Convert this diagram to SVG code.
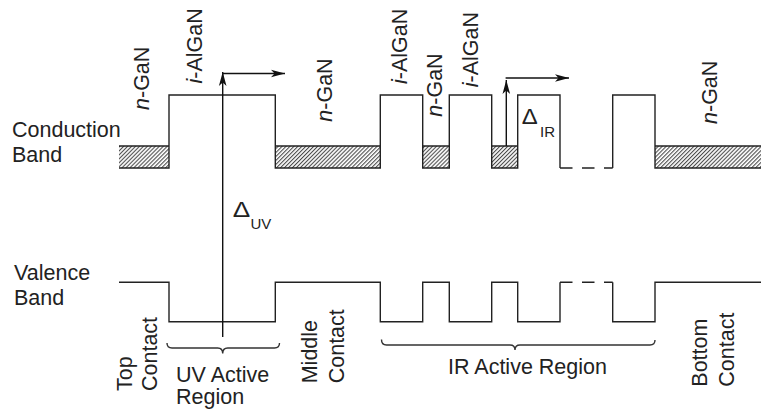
<svg xmlns="http://www.w3.org/2000/svg" width="761" height="409" viewBox="0 0 761 409">
<style>
  .band { fill: none; stroke: #222; stroke-width: 1.4; }
  .dash { fill: none; stroke: #222; stroke-width: 1.4; stroke-dasharray: 12.5 9.5; }
  .edge { fill: none; stroke: #222; stroke-width: 1.4; }
  .hatch { fill: url(#hatch); stroke: none; }
  .arrow { fill: none; stroke: #111; stroke-width: 1.4; marker-end: url(#ah); }
  .brace { fill: none; stroke: #333; stroke-width: 1.4; }
  text { font-family: "Liberation Sans", Arial, sans-serif; font-size: 21.5px; fill: #222; }
  .sub { font-size: 15px; }
  .it { font-style: italic; }
</style>
<defs>
  <pattern id="hatch" patternUnits="userSpaceOnUse" width="2.8" height="2.8" patternTransform="rotate(45)">
    <line x1="0.6" y1="0" x2="0.6" y2="2.8" stroke="#222" stroke-width="0.9"/>
  </pattern>
  <marker id="ah" markerUnits="userSpaceOnUse" markerWidth="16" markerHeight="10" refX="0" refY="0" viewBox="-15 -5 16 10" orient="auto" overflow="visible">
    <path d="M0,0 L-14,-3.8 L-10.5,0 L-14,3.8 Z" fill="#111"/>
  </marker>
</defs>

<g id="conduction-band">
  <rect class="hatch" x="119" y="146" width="50" height="22"/>
  <rect class="hatch" x="275.3" y="146" width="105" height="22"/>
  <rect class="hatch" x="422.7" y="146" width="26.6" height="22"/>
  <rect class="hatch" x="491.7" y="146" width="26" height="22"/>
  <rect class="hatch" x="655" y="146" width="106" height="22"/>
  <path class="edge" d="M119,146 H169 M275.3,146 H380.3 M422.7,146 H449.3 M491.7,146 H517.7 M655,146 H761"/>
  <path class="band" d="M119,168 H169 V95 H275.3 V168 H380.3 V95 H422.7 V168 H449.3 V95 H491.7 V168 H517.7 V95 H560 V168"/>
  <path class="dash" d="M560,168 H612.7"/>
  <path class="band" d="M612.7,168 V95 H655 V168 H761"/>
</g>

<g id="valence-band">
  <path class="band" d="M119,282.3 H169 V321.7 H275.3 V282.3 H380.3 V321.7 H422.7 V282.3 H449.3 V321.7 H491.7 V282.3 H517.7 V321.7 H560 V282.3"/>
  <path class="dash" d="M560,282.3 H612.7"/>
  <path class="band" d="M612.7,282.3 V321.7 H655 V282.3 H761"/>
</g>

<g id="connectors">
  <line class="arrow" x1="222.7" y1="337" x2="222.7" y2="72"/>
  <line class="arrow" x1="222" y1="73.5" x2="285" y2="73.5"/>
  <line class="arrow" x1="506.3" y1="146" x2="506.3" y2="80"/>
  <line class="arrow" x1="505.6" y1="78" x2="569" y2="78"/>
</g>

<g id="braces">
  <path class="brace" d="M167,343 Q167,348 172,348 H217.7 Q222.7,348 222.7,353.5 Q222.7,348 227.7,348 H274.5 Q279.5,348 279.5,343"/>
  <path class="brace" d="M381.5,339.5 Q381.5,345 386.5,345 H510 Q515,345 515,350 Q515,345 520,345 H650 Q655,345 655,340"/>
</g>

<g id="band-labels">
  <text x="12" y="137">Conduction</text>
  <text x="12" y="162">Band</text>
  <text x="14" y="280">Valence</text>
  <text x="14" y="305">Band</text>
</g>

<g id="layer-labels">
  <text transform="translate(148.5,110) rotate(-90)"><tspan class="it">n</tspan>-GaN</text>
  <text transform="translate(201.5,83.5) rotate(-90)"><tspan class="it">i</tspan>-AlGaN</text>
  <text transform="translate(332,121.7) rotate(-90)"><tspan class="it">n</tspan>-GaN</text>
  <text transform="translate(407,84) rotate(-90)"><tspan class="it">i</tspan>-AlGaN</text>
  <text transform="translate(442,116.7) rotate(-90)"><tspan class="it">n</tspan>-GaN</text>
  <text transform="translate(478,87.3) rotate(-90)"><tspan class="it">i</tspan>-AlGaN</text>
  <text transform="translate(717,124) rotate(-90)"><tspan class="it">n</tspan>-GaN</text>
</g>

<g id="delta-labels">
  <text x="232.7" y="216.7" font-size="19" textLength="17.5" lengthAdjust="spacingAndGlyphs">Δ</text>
  <text class="sub" x="250.5" y="228.5">UV</text>
  <text x="521.7" y="123.5" font-size="19" textLength="16" lengthAdjust="spacingAndGlyphs">Δ</text>
  <text class="sub" x="540" y="137">IR</text>
</g>

<g id="region-labels">
  <text transform="translate(131.5,391) rotate(-90)">Top</text>
  <text transform="translate(157,391) rotate(-90)">Contact</text>
  <text x="176" y="381.7">UV Active</text>
  <text x="176" y="404">Region</text>
  <text transform="translate(317.2,383.3) rotate(-90)">Middle</text>
  <text transform="translate(343.8,383.3) rotate(-90)">Contact</text>
  <text x="448" y="373.5">IR Active Region</text>
  <text transform="translate(707,386.7) rotate(-90)">Bottom</text>
  <text transform="translate(733.5,386.7) rotate(-90)">Contact</text>
</g>
</svg>
